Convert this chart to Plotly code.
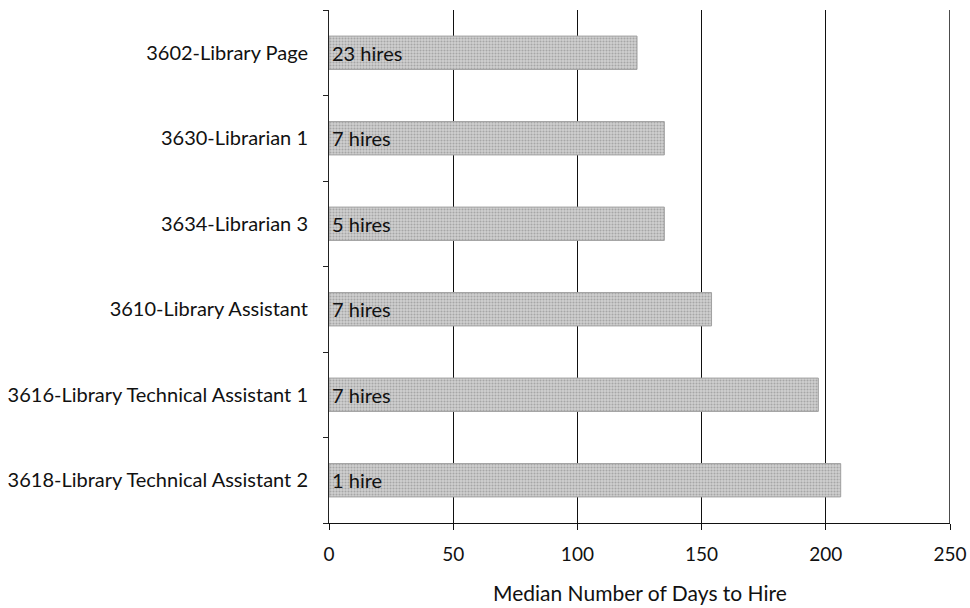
import plotly.graph_objects as go

# Job classes, top to bottom
categories = [
    "3602-Library Page",
    "3630-Librarian 1",
    "3634-Librarian 3",
    "3610-Library Assistant",
    "3616-Library Technical Assistant 1",
    "3618-Library Technical Assistant 2",
]
median_days = [124, 135, 135, 154, 197, 206]
hire_labels = ["23 hires", "7 hires", "5 hires", "7 hires", "7 hires", "1 hire"]
x_ticks = [0, 50, 100, 150, 200, 250]

FONT = "Lato, 'Open Sans', sans-serif"
INK = "#111111"

fig = go.Figure(
    go.Bar(
        y=categories,
        x=median_days,
        orientation="h",
        width=0.39,
        text=hire_labels,
        textposition="inside",
        insidetextanchor="start",
        textangle=0,
        constraintext="none",
        textfont=dict(family=FONT, size=20, color=INK),
        marker=dict(
            color="#c4c4c4",
            line=dict(color="#a0a0a0", width=1),
            pattern=dict(shape=".", fgcolor="#7c7c7c", bgcolor="#d0d0d0",
                         size=3, solidity=0.4),
        ),
        hoverinfo="skip",
    )
)

# last gridline sits on the right edge of the range, draw it explicitly
fig.add_vline(x=x_ticks[-1], line=dict(color=INK, width=1.5), layer="below")

fig.update_layout(
    width=970,
    height=608,
    margin=dict(l=329, r=20, t=10, b=85),
    paper_bgcolor="white",
    plot_bgcolor="white",
    showlegend=False,
    font=dict(family=FONT, size=20, color=INK),
    xaxis=dict(
        range=[0, 250],
        tickvals=x_ticks,
        ticktext=[str(v) for v in x_ticks],
        showgrid=True,
        gridcolor=INK,
        gridwidth=1,
        zeroline=False,
        showline=True,
        linecolor=INK,
        linewidth=1,
        ticks="outside",
        ticklen=6,
        tickcolor=INK,
        ticklabelstandoff=8,
        tickfont=dict(family=FONT, size=19, color=INK),
        automargin=False,
    ),
    yaxis=dict(
        categoryorder="array",
        categoryarray=categories[::-1],
        showgrid=False,
        zeroline=False,
        showline=True,
        linecolor="#222222",
        linewidth=1,
        ticks="outside",
        tickson="boundaries",
        ticklen=5,
        tickcolor="#222222",
        ticklabelstandoff=16,
        tickfont=dict(family=FONT, size=20, color=INK),
        automargin=False,
    ),
    annotations=[
        dict(
            text="Median Number of Days to Hire",
            xref="paper", yref="paper",
            x=0.5, y=-(592 - 523) / (523 - 10),
            xanchor="center", yanchor="middle",
            showarrow=False,
            font=dict(family=FONT, size=21, color=INK),
        )
    ],
)

fig.write_html("out.html")
